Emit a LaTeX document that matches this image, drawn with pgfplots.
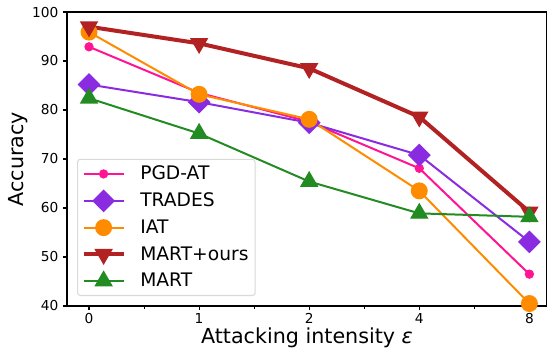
\documentclass[border=0pt]{standalone}
\usepackage{fontspec}
\setmainfont{DejaVu Sans}
\usepackage{pgfplots}
\pgfplotsset{compat=1.18}
\definecolor{cpink}{HTML}{FF1493}
\definecolor{cviolet}{HTML}{8A2BE2}
\definecolor{corange}{HTML}{FF8C00}
\definecolor{cbrown}{HTML}{B22222}
\definecolor{cgreen}{HTML}{228B22}
\begin{document}
\begin{tikzpicture}
\useasboundingbox (-50.25pt,-40.5pt) rectangle (360pt,229.5pt);
\begin{axis}[
  at={(0pt,0pt)}, anchor=south west,
  scale only axis,
  width=360pt, height=220.5pt,
  xmin=-0.2, xmax=4.16,
  ymin=40, ymax=100,
  xtick={0,1,2,3,4},
  xticklabels={0,1,2,4,8},
  minor xtick={0.5,1.5,2.5,3.5},
  ytick={40,50,60,70,80,90,100},
  tick align=outside,
  tick pos=left,
  major tick length=3pt,
  minor tick length=2pt,
  every tick/.style={black, line width=0.8pt},
  axis line style={line width=1.4pt},
  /pgf/number format/assume math mode=true,
  tick label style={font=\fontsize{10.3}{11}\selectfont},
  xticklabel style={yshift=1pt},
  xlabel={Attacking intensity {\itshape ε}},
  ylabel={Accuracy},
  label style={font=\fontsize{15.5}{17}\selectfont},
  xlabel style={yshift=4pt},
  ylabel style={yshift=-3.5pt},
  legend cell align=left,
  legend style={at={(0.021,0.034)}, anchor=south west,
    draw=black!15, rounded corners=2pt, line width=0.8pt,
    font=\fontsize{14}{16}\selectfont,
    row sep=4.3pt, inner xsep=3pt, inner ysep=3pt,
    /tikz/every odd column/.append style={column sep=9pt}},
  legend image code/.code={\draw[#1] (0pt,0pt) -- (30pt,0pt); \path[#1, mark repeat=1] plot coordinates {(15pt,0pt)};},
]
\addplot[cpink, line width=1.5pt, mark=*, mark size=2.7pt, mark options={solid}]
  coordinates {(0,92.9) (1,83.5) (2,77.6) (3,68.1) (4,46.5)};
\addlegendentry{PGD-AT}
\addplot[cviolet, line width=1.5pt, mark=square*, mark size=5.3pt, mark options={rotate=45}]
  coordinates {(0,85.2) (1,81.6) (2,77.4) (3,70.8) (4,53.1)};
\addlegendentry{TRADES}
\addplot[corange, line width=1.5pt, mark=*, mark size=5.6pt]
  coordinates {(0,95.9) (1,83.2) (2,78.1) (3,63.5) (4,40.5)};
\addlegendentry{IAT}
\addplot[cbrown, line width=3pt, mark=triangle*, mark size=7pt, mark options={rotate=180, line width=1pt}]
  coordinates {(0,97.0) (1,93.6) (2,88.5) (3,78.6) (4,59.2)};
\addlegendentry{MART+ours}
\addplot[cgreen, line width=1.5pt, mark=triangle*, mark size=7pt, mark options={line width=1pt}]
  coordinates {(0,82.4) (1,75.2) (2,65.4) (3,58.9) (4,58.2)};
\addlegendentry{MART}
\end{axis}
\end{tikzpicture}
\end{document}
